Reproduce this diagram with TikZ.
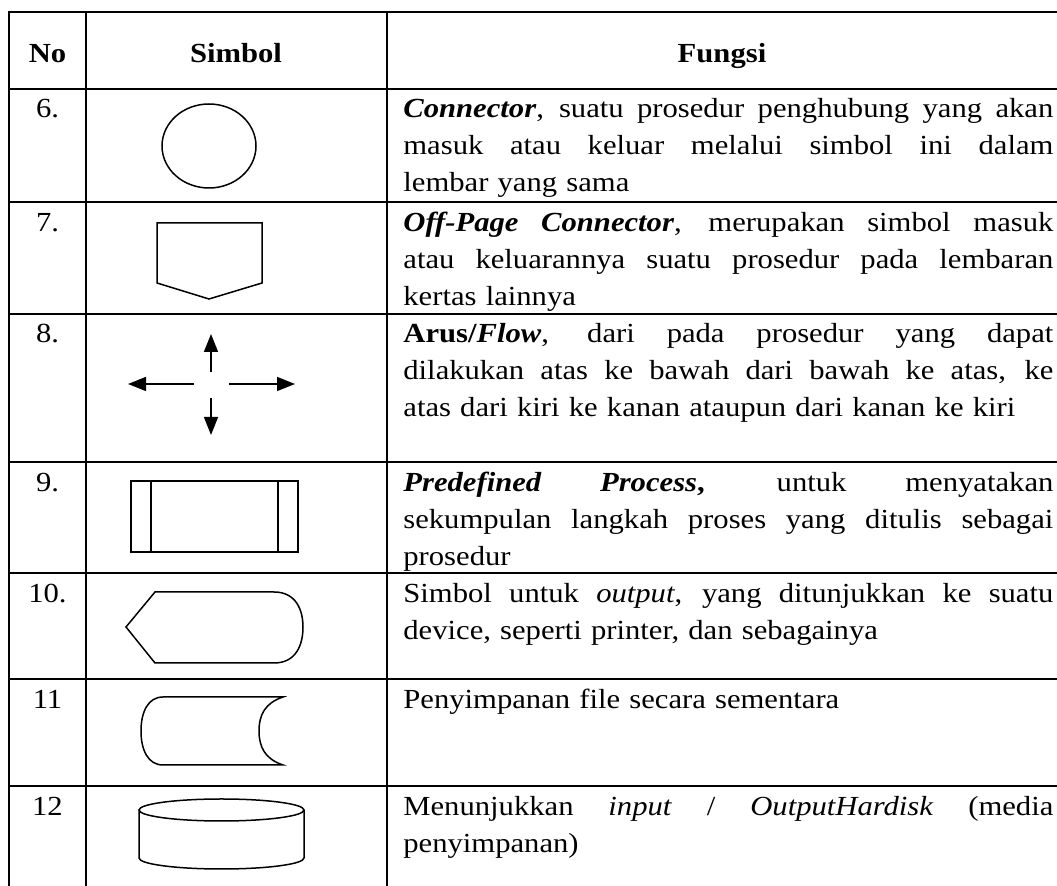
\documentclass[tikz,border=0pt]{standalone}
\usepackage{fontspec}
\setmainfont{Liberation Serif}[FakeStretch=1.11]
\usetikzlibrary{arrows.meta}

\newcommand{\jline}[1]{\leavevmode\hbox to 325pt{\spaceskip=.25em plus 1fil\xspaceskip=.25em plus 1fil\relax #1}}

\begin{document}
\begin{tikzpicture}[x=0.5pt,y=-0.5pt,font=\fontsize{13.8}{18.5}\selectfont]
	\tikzstyle{Grid}	= [line width=1.15pt]
	\tikzstyle{Symbol}	= [line width=0.75pt]
	\tikzstyle{Flow}	= [line width=0.75pt, -{Triangle[length=9pt,width=7pt]}]
	\tikzstyle{Head}	= [anchor=base, inner sep=0pt, font=\fontsize{13.8}{18.5}\selectfont\bfseries]
	\tikzstyle{Num}		= [anchor=base, inner sep=0pt]
	\tikzstyle{Desc}	= [anchor=base west, inner sep=0pt, text width=325pt, align=left]

	\useasboundingbox (0,0) rectangle (1057,886);

	% table
	\draw [Grid] (1057,12) -- (9,12) -- (9,886);
	\draw [Grid] (86,12) -- (86,886);
	\draw [Grid] (387,12) -- (387,886);
	\foreach \y in {89,202,314,462,573,679,786}
		\draw [Grid] (9,\y) -- (1057,\y);

	\node (hNo) at (47.5,63) [Head] {No};
	\node (hSym) at (236,63) [Head] {Simbol};
	\node (hFun) at (722,63) [Head] {Fungsi};

	\node (n6) at (47.5,118) [Num] {6.};
	\node (n7) at (47.5,232) [Num] {7.};
	\node (n8) at (47.5,343) [Num] {8.};
	\node (n9) at (47.5,492) [Num] {9.};
	\node (n10) at (47.5,603) [Num] {10.};
	\node (n11) at (47.5,709) [Num] {11};
	\node (n12) at (47.5,816) [Num] {12};

	\node (d6) at (403,118) [Desc] {\jline{\textbf{\textit{Connector}}, suatu prosedur penghubung yang akan}\\
		\jline{masuk atau keluar melalui simbol ini dalam}\\
		lembar yang sama};
	\node (d7) at (403,232) [Desc] {\jline{\textbf{\textit{Off-Page Connector}}, merupakan simbol masuk}\\
		\jline{atau keluarannya suatu prosedur pada lembaran}\\
		kertas lainnya};
	\node (d8) at (403,343) [Desc] {\jline{\textbf{Arus/\textit{Flow}}, dari pada prosedur yang dapat}\\
		\jline{dilakukan atas ke bawah dari bawah ke atas, ke}\\
		atas dari kiri ke kanan ataupun dari kanan ke kiri};
	\node (d9) at (403,492) [Desc] {\jline{\textbf{\textit{Predefined Process}}\textbf{,} untuk menyatakan}\\
		\jline{sekumpulan langkah proses yang ditulis sebagai}\\
		prosedur};
	\node (d10) at (403,603) [Desc] {\jline{Simbol untuk \textit{output}, yang ditunjukkan ke suatu}\\
		device, seperti printer, dan sebagainya};
	\node (d11) at (403,709) [Desc] {Penyimpanan file secara sementara};
	\node (d12) at (403,816) [Desc] {\jline{Menunjukkan \textit{input} / \textit{OutputHardisk} (media}\\
		penyimpanan)};

	% symbols
	\draw [Symbol] (209,146) ellipse [x radius=47, y radius=42];

	\draw [Symbol] (157,223) -- (262,223) -- (262,283) -- (209,299) -- (157,283) -- cycle;

	\coordinate (upA) at (211,372);	\coordinate (upB) at (211,334);
	\coordinate (ltA) at (194,384);	\coordinate (ltB) at (128,384);
	\coordinate (rtA) at (229,384);	\coordinate (rtB) at (295,384);
	\coordinate (dnA) at (211,398);	\coordinate (dnB) at (211,435);
	\draw [Flow] (upA) to (upB);
	\draw [Flow] (ltA) to (ltB);
	\draw [Flow] (rtA) to (rtB);
	\draw [Flow] (dnA) to (dnB);

	\draw [Symbol] (131,481) rectangle (298,552);
	\draw [Symbol] (151,481) -- (151,552);
	\draw [Symbol] (278,481) -- (278,552);

	\draw [Symbol] (126,627) -- (155,592) -- (274,592)
		.. controls (296,592) and (303,610) .. (303,627)
		.. controls (303,645) and (296,663) .. (274,663) -- (155,663) -- cycle;

	\draw [Symbol] (163,697) -- (283,697)
		.. controls (265,703) and (259,715) .. (259,731)
		.. controls (259,747) and (265,759) .. (283,765) -- (163,765)
		.. controls (148,765) and (141,750) .. (141,731)
		.. controls (141,712) and (148,697) .. (163,697);

	\draw [Symbol] (221.5,810) ellipse [x radius=82.5, y radius=11];
	\draw [Symbol] (139,810) -- (139,858)
		.. controls (139,864.1) and (176,869) .. (221.5,869)
		.. controls (267,869) and (304,864.1) .. (304,858) -- (304,810);
\end{tikzpicture}
\end{document}
